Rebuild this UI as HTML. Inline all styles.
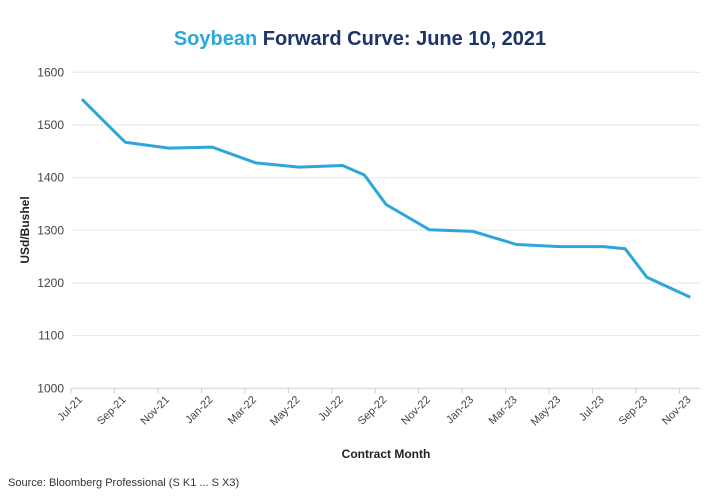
<!DOCTYPE html>
<html><head><meta charset="utf-8"><style>
body{margin:0;background:#fff;font-family:"Liberation Sans",sans-serif;}
svg{display:block}
</style></head><body>
<svg id="chart" width="720" height="500">
<text x="360" y="45" text-anchor="middle" font-size="20" font-weight="bold"><tspan fill="#2aa8dc">Soybean</tspan><tspan fill="#1d3468"> Forward Curve: June 10, 2021</tspan></text>
<g id="grid"></g>
<g id="yticks"></g>
<g id="xticks"></g>
<text transform="translate(29,230) rotate(-90)" text-anchor="middle" font-size="12" font-weight="bold" fill="#222">USd/Bushel</text>
<text x="386" y="458" text-anchor="middle" font-size="12" font-weight="bold" fill="#222">Contract Month</text>
<text x="8" y="486" font-size="11" fill="#333">Source: Bloomberg Professional (S K1 ... S X3)</text>
</svg>
<script>
const tickLabels=["Jul-21","Sep-21","Nov-21","Jan-22","Mar-22","May-22","Jul-22","Sep-22","Nov-22","Jan-23","Mar-23","May-23","Jul-23","Sep-23","Nov-23"];
const yTicks=[1000,1100,1200,1300,1400,1500,1600];
const pointMonths=[0,1,2,4,6,8,10,12,13,14,16,18,20,22,24,25,26,28];
const prices=[1549,1508,1467,1456,1458,1428,1420,1423,1405,1349,1301,1298,1273,1269,1269,1265,1211,1173];
const NS="http://www.w3.org/2000/svg";
const svg=document.getElementById('chart');
const x0=71,x1=700,monthW=21.73,yTop=72.3,yBot=388.3;
function xScale(m){return x0+m*monthW;}
function yScale(v){return yBot-(v-1000)/600*(yBot-yTop);}
function mk(tag,attrs,parent){const e=document.createElementNS(NS,tag);for(const k in attrs)e.setAttribute(k,attrs[k]);parent.appendChild(e);return e;}
const grid=document.getElementById('grid'),yt=document.getElementById('yticks'),xt=document.getElementById('xticks');
yTicks.forEach(v=>{
  const l=mk('line',{x1:x0,x2:x1,y1:yScale(v),y2:yScale(v),stroke:v===1000?'#d0d0d0':'#e6e6e6','stroke-width':1},grid);
  
  
  const t=mk('text',{x:64,y:yScale(v)+4,'text-anchor':'end','font-size':12,fill:'#444'},yt);
  t.textContent=v;
  
  
});
tickLabels.forEach((s,i)=>{
  const x=xScale(i*2);
  const tk=mk('line',{x1:x,x2:x,y1:yBot,y2:yBot+5,stroke:'#ccc'},xt);
  
  
  const t=mk('text',{transform:`translate(${x+12},${yBot+12}) rotate(-45)`,'text-anchor':'end','font-size':11,fill:'#444'},xt);
  t.textContent=s;
  
  
});
const pts=prices.map((v,i)=>xScale(pointMonths[i]+0.5).toFixed(1)+','+yScale(v).toFixed(1)).join(' ');
const line=mk('polyline',{points:pts,fill:'none',stroke:'#2ea6d9','stroke-width':3,'stroke-linejoin':'round'},svg);


</script>
</body></html>
